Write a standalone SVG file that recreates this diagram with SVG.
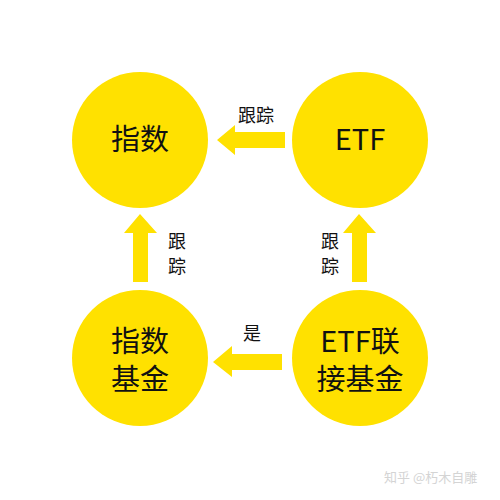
<svg xmlns="http://www.w3.org/2000/svg" width="500" height="500" viewBox="0 0 500 500">
<style>
.node{fill:#FFE100}
.arrow{fill:#FFE100}
.t{font-family:"Noto Sans CJK SC","Noto Sans",sans-serif;fill:#111;text-anchor:middle}
.big{font-size:29px;font-weight:400}
.lbl{font-size:18px}
.wm{font-family:"Noto Sans CJK SC",sans-serif;font-size:13px;fill:#d4d4d4}
</style>
<rect width="500" height="500" fill="#fff"/>
<g id="connectors">
<polygon class="arrow" points="217,140 235,125 235,132 285,132 285,148 235,148 235,155"/>
<polygon class="arrow" points="213,362 232,346 232,354 282,354 282,370 232,370 232,377"/>
<polygon class="arrow" points="140,214 157,233 148,233 148,282 133,282 133,233 124,233"/>
<polygon class="arrow" points="359,214 376,233 367,233 367,282 352,282 352,233 343,233"/>
<text class="t lbl" x="256" y="122">跟踪</text>
<text class="t lbl" x="177" y="248">跟</text>
<text class="t lbl" x="177" y="273">踪</text>
<text class="t lbl" x="330" y="248">跟</text>
<text class="t lbl" x="330" y="273">踪</text>
<text class="t lbl" x="252" y="340">是</text>
</g>
<g id="node-index">
<circle class="node" cx="140" cy="140" r="68"/>
<text class="t big" x="140" y="150">指数</text>
</g>
<g id="node-etf">
<circle class="node" cx="360" cy="140" r="68"/>
<text class="t big" x="360" y="150">ETF</text>
</g>
<g id="node-index-fund">
<circle class="node" cx="140" cy="358" r="68"/>
<text class="t big" x="140" y="352">指数</text>
<text class="t big" x="140" y="390">基金</text>
</g>
<g id="node-etf-link">
<circle class="node" cx="360" cy="358" r="68"/>
<text class="t big" x="360" y="352">ETF联</text>
<text class="t big" x="360" y="390">接基金</text>
</g>
<text class="wm" x="384" y="482">知乎 @朽木自雕</text>
</svg>
